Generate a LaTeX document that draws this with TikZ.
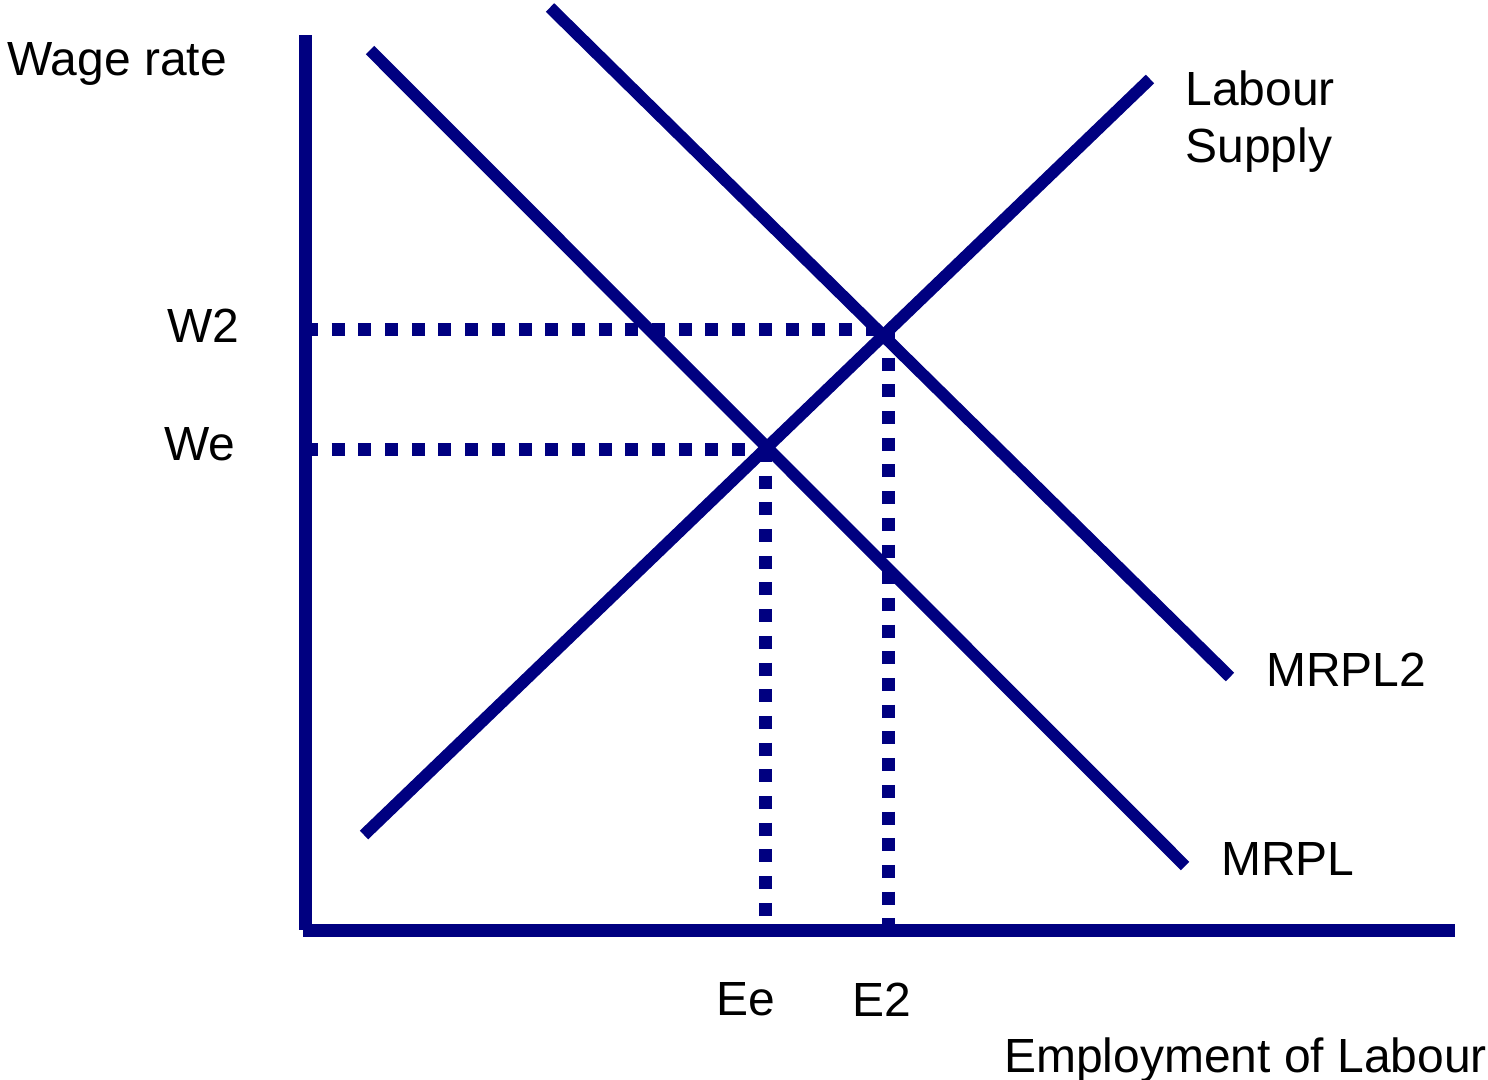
\documentclass[tikz,border=0pt]{standalone}
\usepackage{fontspec}
\setmainfont{Liberation Sans}
\usepackage{xcolor}
\usetikzlibrary{calc}
\definecolor{curvenavy}{RGB}{0,0,128}
\tikzset{
  axis/.style={draw=curvenavy, line width=0.26cm, line cap=butt},
  curve/.style={draw=curvenavy, line width=0.24cm, line cap=butt},
  guide/.style={draw=curvenavy, line width=0.26cm, dash pattern=on 0.26cm off 0.274cm},
  lbl/.style={inner sep=0pt, anchor=base west, font=\fontsize{27.3}{32.4}\selectfont, align=left},
}
\begin{document}
\begin{tikzpicture}[x=0.02cm, y=-0.02cm]
  \useasboundingbox (0,0) rectangle (1488,1079);
  % axes
  \coordinate (origin) at (305,930);
  \coordinate (ytop) at (305,35);
  \coordinate (xend) at (1455,930);
  \draw[axis] (ytop) -- (origin);
  \draw[axis] ($(origin)+(-2,0)$) -- (xend);
  % curves
  \coordinate (slow) at (364,835);
  \coordinate (shigh) at (1150,79);
  \coordinate (mtop) at (370,50);
  \coordinate (mbot) at (1185,866);
  \coordinate (mmtop) at (550,7.5);
  \coordinate (mmbot) at (1230,677);
  \draw[curve] (slow) -- (shigh);
  \draw[curve] (mtop) -- (mbot);
  \draw[curve] (mmtop) -- (mmbot);
  % equilibria
  \coordinate (eqe) at (765,449);
  \coordinate (eqtwo) at (888,331);
  \draw[guide] (305,329) -- (eqtwo |- 0,329);
  \draw[guide] (305,449) -- (eqe);
  \draw[guide] (eqe) -- (eqe |- origin);
  \draw[guide] (eqtwo) -- (eqtwo |- origin);
  % labels
  \node[lbl] (wage) at (7,75) {Wage rate};
  \node[lbl] (wtwo) at (167,342) {W2};
  \node[lbl] (we) at (164,460) {We};
  \node[lbl] (supply) at (1185,162) {Labour\\Supply};
  \node[lbl] (mrpltwo) at (1266,686) {MRPL2};
  \node[lbl] (mrpl) at (1221,875) {MRPL};
  \node[lbl] (ee) at (716,1015) {Ee};
  \node[lbl] (etwo) at (852,1016) {E2};
  \node[lbl] (employ) at (1004,1072) {Employment of Labour};
\end{tikzpicture}
\end{document}
